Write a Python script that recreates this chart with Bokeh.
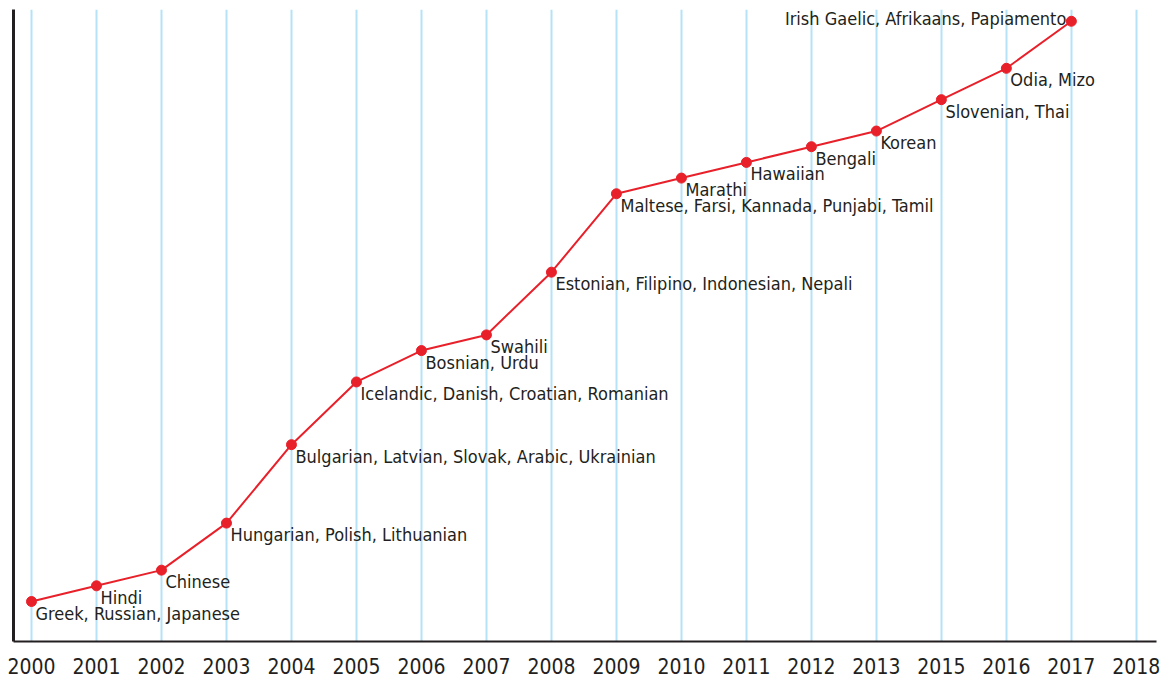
from bokeh.plotting import figure
from bokeh.models import ColumnDataSource, FixedTicker, Range1d
from bokeh.core.properties import value
from bokeh.embed import file_html
from bokeh.resources import INLINE

years = ["2000", "2001", "2002", "2003", "2004", "2005", "2006", "2007", "2008",
         "2009", "2010", "2011", "2012", "2013", "2015", "2016", "2017", "2018"]
counts = [3, 4, 5, 8, 13, 17, 19, 20, 24, 29, 30, 31, 32, 33, 35, 37, 40]
labels = [
    "Greek, Russian, Japanese",
    "Hindi",
    "Chinese",
    "Hungarian, Polish, Lithuanian",
    "Bulgarian, Latvian, Slovak, Arabic, Ukrainian",
    "Icelandic, Danish, Croatian, Romanian",
    "Bosnian, Urdu",
    "Swahili",
    "Estonian, Filipino, Indonesian, Nepali",
    "Maltese, Farsi, Kannada, Punjabi, Tamil",
    "Marathi",
    "Hawaiian",
    "Bengali",
    "Korean",
    "Slovenian, Thai",
    "Odia, Mizo",
    "Irish Gaelic, Afrikaans, Papiamento",
]

FONT = "'DejaVu Sans Condensed', 'DejaVu Sans', sans-serif"
RED = "#e8202a"
INK = "#231f20"

xs = list(range(len(counts)))
src = ColumnDataSource(dict(x=xs, y=counts, label=labels))
src_main = ColumnDataSource(dict(x=xs[:-1], y=counts[:-1], label=labels[:-1]))
src_last = ColumnDataSource(dict(x=xs[-1:], y=counts[-1:], label=labels[-1:]))

p = figure(width=1164, height=677, output_backend="svg", toolbar_location=None,
           x_range=Range1d(-0.277, 17.31), y_range=Range1d(0.45, 40.75),
           min_border_left=13, min_border_right=8, min_border_top=9, min_border_bottom=36)
p.outline_line_color = None
p.background_fill_color = "white"

# axes
p.xaxis.ticker = FixedTicker(ticks=list(range(len(years))))
p.xaxis.major_label_overrides = {i: y for i, y in enumerate(years)}
p.xaxis.major_label_text_font = FONT
p.xaxis.major_label_text_font_size = "21px"
p.xaxis.major_label_text_color = INK
p.xaxis.major_label_standoff = 10
p.xaxis.major_tick_line_color = None
p.xaxis.minor_tick_line_color = None
p.xaxis.axis_line_color = INK
p.xaxis.axis_line_width = 2

p.yaxis.ticker = FixedTicker(ticks=[])
p.yaxis.major_label_text_font_size = "0px"
p.yaxis.major_label_standoff = 0
p.yaxis.major_tick_line_color = None
p.yaxis.minor_tick_line_color = None
p.yaxis.axis_line_color = INK
p.yaxis.axis_line_width = 3

p.xgrid.grid_line_color = "#b5e2f7"
p.xgrid.grid_line_width = 2
p.ygrid.grid_line_color = None

p.line("x", "y", source=src, line_color=RED, line_width=2)
p.scatter("x", "y", source=src, size=10, fill_color=RED, line_color=RED)

p.text("x", "y", text="label", source=src_main, text_font=value(FONT),
       text_font_size="18px", text_color=INK, text_align="left",
       text_baseline="top", x_offset=4, y_offset=1)
p.text("x", "y", text="label", source=src_last, text_font=value(FONT),
       text_font_size="18px", text_color=INK, text_align="right",
       text_baseline="middle", x_offset=-5, y_offset=-3)

open("out.html", "w").write(file_html(p, INLINE))
